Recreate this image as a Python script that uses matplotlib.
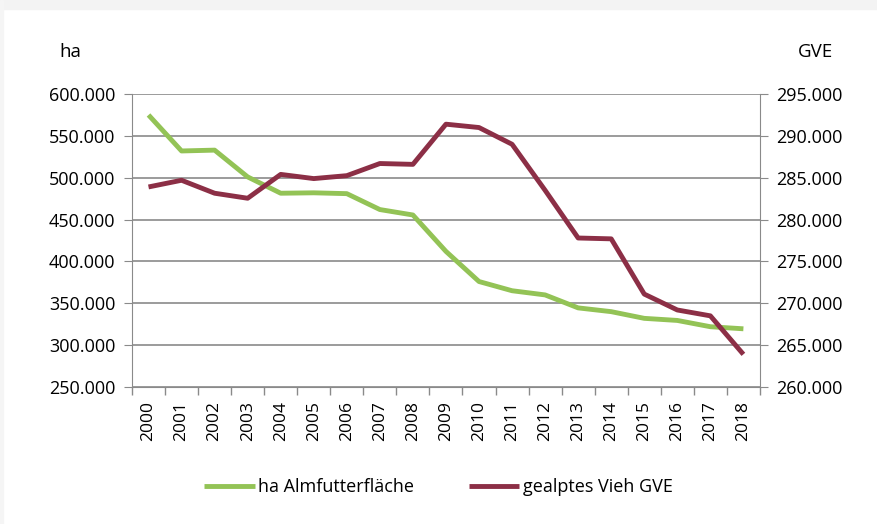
import numpy as np
import matplotlib.pyplot as plt
from matplotlib.ticker import FuncFormatter, FixedLocator
from matplotlib.patches import Rectangle

years = [str(y) for y in range(2000, 2019)]
ha_almfutter = [575000, 532000, 533000, 501000, 481500, 482000, 481000, 462000, 455500,
                412000, 376000, 365000, 360000, 344500, 340000, 332000, 329500, 322000, 319500]
gve_vieh = [283900, 284700, 283150, 282550, 285400, 284900, 285250, 286700, 286600,
            291400, 291000, 289000, 283500, 277800, 277700, 271100, 269200, 268500, 263900]

green = '#93c356'
maroon = '#8c2f46'
grid_c = '#8a8a8a'

plt.rcParams['font.family'] = ['Open Sans', 'DejaVu Sans']

fig = plt.figure(figsize=(8.77, 5.24), dpi=100)

# faint page edge at top and left
fig.patches.append(Rectangle((0, 1 - 9 / 524), 1, 9 / 524, transform=fig.transFigure,
                             color='#f3f3f3', zorder=0))
fig.patches.append(Rectangle((0, 0), 3 / 877, 1, transform=fig.transFigure,
                             color='#f5f5f5', zorder=0))

ax = fig.add_axes([0.1505, 0.2615, 0.716, 0.559])
ax2 = ax.twinx()

x = np.arange(len(years))
l1, = ax.plot(x, ha_almfutter, color=green, lw=3.5, solid_capstyle='butt', label='ha Almfutterfläche')
l2, = ax2.plot(x, gve_vieh, color=maroon, lw=3.5, solid_capstyle='butt', label='gealptes Vieh GVE')

ax.set_ylim(250000, 600000)
ax.set_yticks(np.arange(250000, 600001, 50000))
ax2.set_ylim(260000, 295000)
ax2.set_yticks(np.arange(260000, 295001, 5000))

fmt = FuncFormatter(lambda v, p: f'{int(v):,}'.replace(',', '.'))
ax.yaxis.set_major_formatter(fmt)
ax2.yaxis.set_major_formatter(fmt)

ax.set_xlim(-0.5, len(years) - 0.5)
ax.set_xticks(x)
ax.set_xticklabels(years, rotation=90, fontsize=12.5)
ax.xaxis.set_minor_locator(FixedLocator(np.arange(-0.5, len(years), 1.0)))
ax.tick_params(axis='x', which='major', length=0, pad=10)
ax.tick_params(axis='x', which='minor', length=6, color=grid_c, width=1)

ax.grid(axis='y', color=grid_c, lw=1.2)
ax.set_axisbelow(True)
ax.tick_params(axis='y', length=6, color=grid_c, labelsize=13, pad=6)
ax2.tick_params(axis='y', length=6, color=grid_c, labelsize=13, pad=6)

for a in (ax, ax2):
    for s in a.spines.values():
        s.set_visible(False)
ax.spines['left'].set_visible(True)
ax.spines['left'].set_color(grid_c)
ax.spines['bottom'].set_visible(True)
ax.spines['bottom'].set_color(grid_c)
ax2.spines['right'].set_visible(True)
ax2.spines['right'].set_color(grid_c)

fig.text(0.08, 0.9, 'ha', fontsize=13.5, ha='center', va='center')
fig.text(0.93, 0.9, 'GVE', fontsize=13.5, ha='center', va='center')

fig.legend(handles=[l1, l2], loc='center', bbox_to_anchor=(0.5, 0.07), ncol=2,
           frameon=False, fontsize=13, handlelength=2.8, handletextpad=0.2, columnspacing=3)

fig.savefig('out.png', dpi=100)
